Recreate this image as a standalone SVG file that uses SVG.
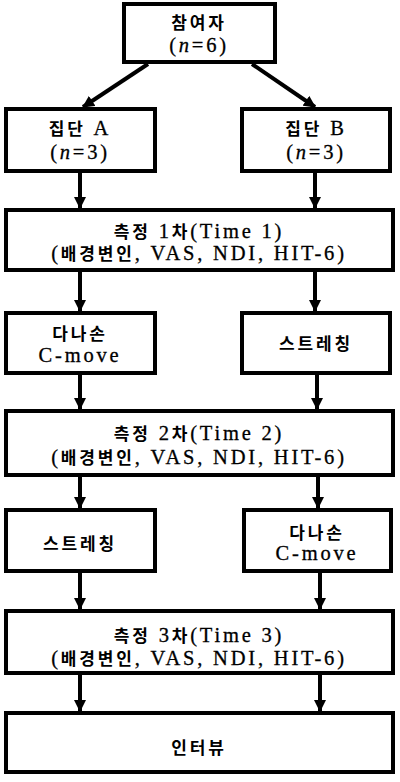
<svg xmlns="http://www.w3.org/2000/svg" width="400" height="782" viewBox="0 0 400 782">
<style>
.box{fill:#fff;stroke:#000;stroke-width:4}
.t{font-family:"Liberation Serif","Noto Sans CJK KR",serif;font-size:20.5px;text-anchor:middle;fill:#000;stroke:#000;stroke-width:0.3;letter-spacing:2.8px}
.k{font-family:"Noto Sans CJK KR",sans-serif;font-size:17px;font-weight:bold;stroke:none}
.c{stroke:#000;stroke-width:4;fill:none;marker-end:url(#ah)}
</style>
<defs>
<marker id="ah" markerUnits="userSpaceOnUse" markerWidth="12" markerHeight="12" viewBox="0 0 12 12" refX="11" refY="6" orient="auto">
<path d="M0,0 L12,6 L0,12 Z" fill="#000"/>
</marker>
</defs>
<rect width="400" height="782" fill="#fff"/>
<g id="connectors">
<line class="c" x1="148" y1="64" x2="83" y2="107"/>
<line class="c" x1="252" y1="64" x2="315" y2="107"/>
<line class="c" x1="80" y1="173" x2="80" y2="208"/>
<line class="c" x1="315" y1="173" x2="315" y2="208"/>
<line class="c" x1="80" y1="272" x2="80" y2="311"/>
<line class="c" x1="315" y1="272" x2="315" y2="311"/>
<line class="c" x1="80" y1="375" x2="80" y2="409"/>
<line class="c" x1="317" y1="375" x2="317" y2="409"/>
<line class="c" x1="80" y1="477" x2="80" y2="508"/>
<line class="c" x1="318" y1="477" x2="318" y2="508"/>
<line class="c" x1="80" y1="573" x2="80" y2="609"/>
<line class="c" x1="320" y1="573" x2="320" y2="609"/>
<line class="c" x1="80" y1="675" x2="80" y2="711"/>
<line class="c" x1="320" y1="675" x2="320" y2="711"/>
</g>
<g id="participants">
<rect class="box" x="124" y="4" width="151" height="58"/>
<text class="t" x="199" y="29"><tspan class="k">참여자</tspan></text>
<text class="t" x="199" y="52">(<tspan font-style="italic">n</tspan>=6)</text>
</g>
<g id="groupA">
<rect class="box" x="6" y="109" width="149" height="62"/>
<text class="t" x="80" y="135"><tspan class="k">집단</tspan> A</text>
<text class="t" x="80" y="159">(<tspan font-style="italic">n</tspan>=3)</text>
</g>
<g id="groupB">
<rect class="box" x="242" y="109" width="148" height="62"/>
<text class="t" x="316" y="135"><tspan class="k">집단</tspan> B</text>
<text class="t" x="316" y="159">(<tspan font-style="italic">n</tspan>=3)</text>
</g>
<g id="time1">
<rect class="box" x="6" y="210" width="387" height="60"/>
<text class="t" x="199" y="238"><tspan class="k">측정</tspan> 1<tspan class="k">차</tspan>(Time 1)</text>
<text class="t" x="199" y="260">(<tspan class="k">배경변인</tspan>, VAS, NDI, HIT-6)</text>
</g>
<g id="a1">
<rect class="box" x="6" y="313" width="149" height="60"/>
<text class="t" x="80" y="340"><tspan class="k">다나손</tspan></text>
<text class="t" x="80" y="362">C-move</text>
</g>
<g id="b1">
<rect class="box" x="242" y="313" width="148" height="60"/>
<text class="t" x="316" y="350"><tspan class="k">스트레칭</tspan></text>
</g>
<g id="time2">
<rect class="box" x="6" y="411" width="387" height="64"/>
<text class="t" x="199" y="440"><tspan class="k">측정</tspan> 2<tspan class="k">차</tspan>(Time 2)</text>
<text class="t" x="199" y="464">(<tspan class="k">배경변인</tspan>, VAS, NDI, HIT-6)</text>
</g>
<g id="a2">
<rect class="box" x="6" y="510" width="149" height="61"/>
<text class="t" x="80" y="550"><tspan class="k">스트레칭</tspan></text>
</g>
<g id="b2">
<rect class="box" x="244" y="510" width="147" height="61"/>
<text class="t" x="317" y="539"><tspan class="k">다나손</tspan></text>
<text class="t" x="317" y="560">C-move</text>
</g>
<g id="time3">
<rect class="box" x="6" y="611" width="387" height="62"/>
<text class="t" x="199" y="642"><tspan class="k">측정</tspan> 3<tspan class="k">차</tspan>(Time 3)</text>
<text class="t" x="199" y="665">(<tspan class="k">배경변인</tspan>, VAS, NDI, HIT-6)</text>
</g>
<g id="interview">
<rect class="box" x="6" y="713" width="387" height="59"/>
<text class="t" x="199" y="754"><tspan class="k">인터뷰</tspan></text>
</g>
</svg>
